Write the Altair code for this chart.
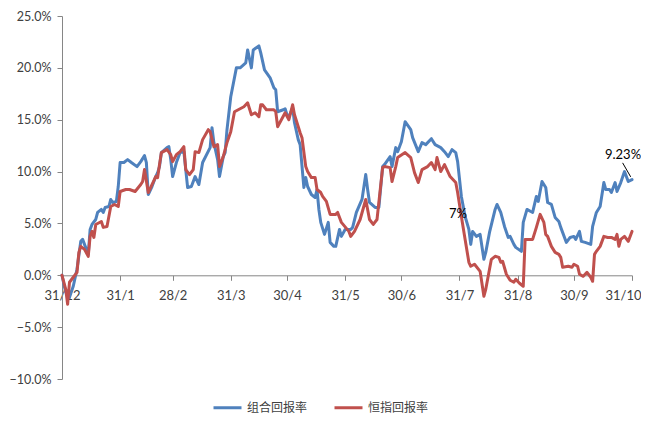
import altair as alt
import pandas as pd

# ---- data (days after 31/12, return in %) ----
blue_days = [0, 1, 2, 4, 6, 8, 10, 11, 13, 14, 15, 16, 18, 19, 21, 22, 23, 25, 26, 27, 29, 30, 31, 33,
             35, 37, 40, 42, 44, 45, 46, 48, 50, 51, 52, 53, 56, 57, 58, 59, 61, 63, 65, 67, 69, 71,
             73, 75, 79, 80, 81, 83, 84, 86, 87, 88, 90, 93, 95, 98, 99, 101, 102, 105, 106, 108,
             111, 113, 114, 115, 118, 119, 120, 121, 123, 124, 126, 127, 129, 130, 131, 133, 135,
             136, 137, 138, 140, 142, 143, 145, 146, 148, 149, 151, 154, 155, 157, 160, 162, 163,
             164, 167, 169, 171, 172, 175, 176, 178, 179, 181, 183, 186, 187, 190, 192, 194, 197,
             199, 202, 204, 206, 208, 210, 211, 213, 215, 217, 218, 219, 221, 223, 225, 226, 228,
             231, 232, 234, 236, 238, 239, 241, 242, 245, 246, 248, 250, 251, 253, 254, 256, 258,
             259, 261, 263, 265, 266, 269, 271, 273, 274, 276, 277, 279, 282, 283, 285, 287, 289,
             290, 292, 293, 295, 296, 298, 300, 302, 304]
blue_vals = [0, -0.87, -1.63, -2.12, -1.06, 0.58, 3.27, 3.46, 2.50, 2.02, 4.42, 4.90, 5.38, 6.06,
             6.35, 6.06, 6.54, 6.63, 7.31, 7.02, 7.12, 8.56, 10.87, 10.87, 11.15, 10.87, 10.48,
             10.96, 11.54, 10.87, 7.79, 8.56, 9.52, 9.90, 10.48, 11.83, 12.31, 12.40, 11.15, 9.52,
             10.87, 11.83, 11.92, 8.46, 8.56, 9.52, 8.75, 10.87, 12.31, 14.23, 12.79, 11.15, 9.52,
             11.44, 11.83, 14.04, 17.21, 20.0, 20.0, 20.48, 21.73, 20.0, 21.73, 22.12, 21.44, 19.81,
             19.04, 18.08, 17.88, 15.77, 15.96, 16.06, 15.48, 15.29, 16.15, 14.71, 13.08, 12.60,
             8.46, 9.42, 8.56, 7.79, 7.50, 8.27, 6.35, 5.10, 3.94, 5.10, 3.17, 2.79, 2.79, 4.42,
             3.75, 4.42, 4.42, 4.62, 6.06, 7.31, 9.71, 8.27, 7.02, 6.54, 6.54, 10.48, 10.67, 11.44,
             10.48, 12.31, 11.92, 12.88, 14.81, 14.04, 13.27, 11.92, 12.79, 12.60, 13.17, 12.60,
             12.31, 11.92, 11.44, 12.12, 11.83, 10.96, 7.60, 5.67, 4.42, 2.98, 4.23, 3.75, 3.94,
             1.54, 2.21, 4.13, 6.35, 6.83, 6.06, 4.71, 3.65, 3.75, 2.98, 2.69, 2.31, 5.10, 6.35,
             6.15, 6.06, 7.60, 7.12, 9.04, 8.46, 7.02, 6.83, 5.58, 5.19, 4.62, 3.17, 3.65, 3.75,
             3.46, 4.23, 3.27, 3.17, 2.98, 4.71, 6.06, 6.63, 8.94, 8.27, 8.27, 7.98, 8.94, 8.08,
             8.94, 10.0, 9.04, 9.23]

red_days = [0, 2, 3, 4, 6, 8, 9, 10, 12, 14, 15, 16, 17, 18, 21, 22, 24, 26, 28, 30, 31, 34, 36,
            39, 42, 43, 44, 46, 48, 50, 51, 52, 53, 56, 58, 59, 61, 63, 65, 66, 68, 70, 71, 73, 75,
            78, 79, 81, 83, 84, 86, 88, 90, 92, 94, 97, 99, 101, 103, 105, 106, 107, 109, 113, 114,
            115, 117, 119, 121, 123, 124, 127, 128, 130, 131, 133, 135, 136, 138, 139, 141, 143,
            146, 147, 149, 153, 154, 156, 159, 162, 163, 164, 166, 168, 171, 172, 175, 176, 178,
            179, 183, 186, 188, 190, 192, 195, 197, 199, 200, 202, 204, 207, 210, 211, 213, 215,
            217, 218, 220, 223, 225, 226, 229, 231, 233, 234, 235, 237, 239, 241, 242, 244, 246,
            247, 249, 251, 253, 255, 257, 258, 259, 261, 263, 265, 266, 267, 270, 272, 273, 275,
            276, 278, 280, 282, 283, 284, 285, 287, 289, 291, 293, 295, 296, 297, 298, 300, 302,
            304]
red_vals = [0, -1.35, -2.79, -0.67, -0.19, 0.29, 2.21, 2.79, 2.50, 1.83, 3.75, 4.23, 3.65, 4.90,
            5.19, 4.62, 4.71, 6.63, 6.83, 6.63, 8.08, 8.27, 8.27, 8.08, 8.75, 9.04, 10.19, 7.98,
            8.75, 9.52, 9.42, 10.67, 11.83, 12.12, 11.63, 10.96, 11.63, 11.92, 12.40, 10.19, 9.71,
            10.19, 11.92, 11.83, 13.08, 14.04, 13.85, 12.40, 12.60, 10.48, 11.44, 12.79, 13.85,
            15.77, 15.96, 16.25, 16.63, 15.48, 15.67, 15.29, 16.44, 16.44, 15.96, 15.96, 15.77,
            14.33, 15.00, 15.67, 15.00, 16.44, 15.48, 13.75, 13.27, 10.48, 10.0, 9.42, 9.42, 8.27,
            7.98, 7.60, 7.12, 5.87, 5.87, 6.06, 5.10, 4.23, 3.75, 4.23, 5.38, 7.31, 6.35, 5.38,
            4.90, 5.38, 10.38, 10.48, 10.38, 9.04, 10.48, 11.35, 11.83, 11.35, 9.90, 8.94, 10.19,
            10.48, 10.87, 10.19, 11.35, 10.0, 10.67, 9.52, 8.94, 7.98, 5.67, 3.46, 1.25, 0.87,
            1.06, 0.38, -2.02, -1.35, 1.54, 1.83, 1.73, 1.25, 1.35, 0.10, -0.48, -0.67, -0.38,
            -0.77, -1.06, 3.46, 3.46, 3.46, 4.62, 5.87, 5.10, 3.94, 3.75, 2.79, 2.21, 2.02, 1.73,
            0.77, 0.87, 0.77, 1.06, 0.87, 0.10, -0.10, 0.29, -0.19, -0.58, 2.02, 2.31, 2.79, 3.75,
            3.65, 3.65, 3.46, 3.94, 2.79, 3.46, 3.75, 3.27, 4.23]

series_names = ["组合回报率", "恒指回报率"]
series_colors = ["#4F81BD", "#C0504D"]

x_tick_dates = ["2014-12-31", "2015-01-31", "2015-02-28", "2015-03-31", "2015-04-30",
                "2015-05-31", "2015-06-30", "2015-07-31", "2015-08-31", "2015-09-30", "2015-10-31"]
y_ticks = [-10, -5, 0, 5, 10, 15, 20, 25]

ann_text = ["7%", "9.23%"]
ann_days = [211.2, 299.2]
ann_vals = [5.87, 11.63]
leader_days = [299.0, 303.3]
leader_vals = [10.84, 9.49]

base_date = pd.Timestamp("2014-12-31")


def to_date(d):
    return (base_date + pd.to_timedelta(d, unit="D")).strftime("%Y/%m/%d %H:%M")


rows = []
for name, days, vals in [(series_names[0], blue_days, blue_vals), (series_names[1], red_days, red_vals)]:
    for d, v in zip(days, vals):
        rows.append({"date": to_date(d), "value": v, "series": name})
df = pd.DataFrame(rows)

ann_df = pd.DataFrame({"date": [to_date(d) for d in ann_days], "value": ann_vals, "text": ann_text})
lead_df = pd.DataFrame({"date": [to_date(leader_days[0])], "value": [leader_vals[0]],
                        "date2": [to_date(leader_days[1])], "value2": [leader_vals[1]]})

tick_vals = [alt.DateTime(year=int(s[:4]), month=int(s[5:7]), date=int(s[8:10])) for s in x_tick_dates]

x_scale = alt.Scale(domain=[alt.DateTime(year=2014, month=12, date=31),
                            alt.DateTime(year=2015, month=10, date=31)], nice=False, padding=0)
y_scale = alt.Scale(domain=[-10, 25], nice=False, zero=False)

axis_color = "#868686"
label_color = "#404040"
font = "Lato"

lines = alt.Chart(df).mark_line(strokeWidth=3, strokeJoin="round", strokeCap="round").encode(
    x=alt.X("date:T", scale=x_scale, title=None,
            axis=alt.Axis(values=tick_vals, labelExpr="timeFormat(datum.value, '%d/%-m')",
                          offset=-103.7, domainColor=axis_color, tickColor=axis_color,
                          tickSize=5, labelPadding=9, labelFont=font, labelFontSize=13,
                          labelColor=label_color, grid=False, labelFlush=False,
                          labelOverlap=False,
                          labelAlign={"expr": "datum.index == 1 ? 'right' : 'center'"},
                          labelOffset={"expr": "datum.index == 1 ? 9 : 0"})),
    y=alt.Y("value:Q", scale=y_scale, title=None,
            axis=alt.Axis(values=y_ticks, labelExpr="format(datum.value, '.1f') + '%'",
                          domainColor=axis_color, tickColor=axis_color, tickSize=5,
                          labelPadding=6, labelFont=font, labelFontSize=12.5,
                          labelColor=label_color, grid=False)),
    color=alt.Color("series:N", scale=alt.Scale(domain=series_names, range=series_colors),
                    sort=series_names, title=None,
                    legend=alt.Legend(orient="none", direction="horizontal", legendX=150,
                                      legendY=376, symbolType="stroke", symbolSize=784,
                                      symbolStrokeWidth=3, columnPadding=20, labelOffset=4,
                                      labelFont="Noto Sans CJK SC", labelFontSize=12,
                                      labelColor=label_color)),
    order=alt.Order("series:N"),
)

texts = alt.Chart(ann_df).mark_text(font=font, fontSize=13, color="#000000").encode(
    x="date:T", y="value:Q", text="text:N")

leader = alt.Chart(lead_df).mark_rule(color="#000000", strokeWidth=1).encode(
    x="date:T", y="value:Q", x2="date2:T", y2="value2:Q")

chart = alt.layer(lines, texts, leader).properties(
    width=570, height=363,
    autosize=alt.AutoSizeParams(type="none"),
    padding={"left": 54, "top": 8, "right": 9, "bottom": 36},
).configure_view(stroke=None)

chart.save("out.html", embed_options={"renderer": "svg", "actions": False})
